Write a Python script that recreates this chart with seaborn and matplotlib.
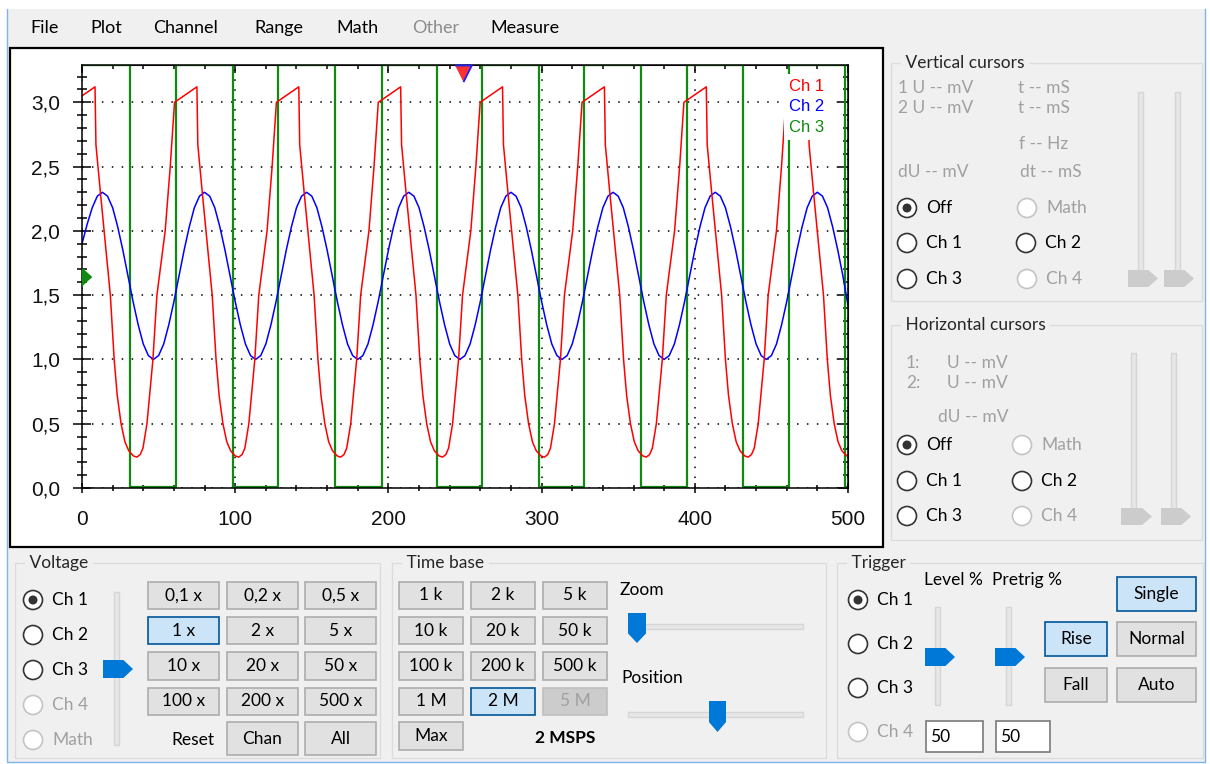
import numpy as np
import matplotlib
matplotlib.use("Agg")
import matplotlib.pyplot as plt
import seaborn as sns
from matplotlib.patches import Rectangle, Circle, Polygon
from matplotlib.ticker import MultipleLocator, FuncFormatter, NullFormatter

# ---------------- signal data ----------------
# x = sample index (0..500), y = volts
ch1_t = [0.0, 8.5, 9.1, 12.0, 18.5, 21.0, 23.0, 25.5, 28.0, 30.5, 33.5, 35.8, 38.0, 39.8, 42.4, 46.3, 48.9, 54.3, 57.6, 60.4,
         75.0, 75.6, 78.5, 85.0, 87.5, 89.5, 92.0, 94.5, 97.0, 100.0, 102.3, 104.5, 106.3, 108.9, 112.8, 115.4, 120.8, 124.1, 126.9,
         141.5, 142.1, 145.0, 151.5, 154.0, 156.0, 158.5, 161.0, 163.5, 166.5, 168.8, 171.0, 172.8, 175.4, 179.3, 181.9, 187.3, 190.6, 193.4,
         208.0, 208.6, 211.5, 218.0, 220.5, 222.5, 225.0, 227.5, 230.0, 233.0, 235.3, 237.5, 239.3, 241.9, 245.8, 248.4, 253.8, 257.1, 259.9,
         274.5, 275.1, 278.0, 284.5, 287.0, 289.0, 291.5, 294.0, 296.5, 299.5, 301.8, 304.0, 305.8, 308.4, 312.3, 314.9, 320.3, 323.6, 326.4,
         341.0, 341.6, 344.5, 351.0, 353.5, 355.5, 358.0, 360.5, 363.0, 366.0, 368.3, 370.5, 372.3, 374.9, 378.8, 381.4, 386.8, 390.1, 392.9,
         407.5, 408.1, 411.0, 417.5, 420.0, 422.0, 424.5, 427.0, 429.5, 432.5, 434.8, 437.0, 438.8, 441.4, 445.3, 447.9, 453.3, 456.6, 459.4,
         474.0, 474.6, 477.5, 484.0, 486.5, 488.5, 491.0, 493.5, 496.0, 499.0, 500.0]
ch1_v = [3.05, 3.12, 2.67, 2.30, 1.50, 1.00, 0.72, 0.50, 0.36, 0.29, 0.25, 0.24, 0.26, 0.31, 0.50, 1.00, 1.50, 2.00, 2.50, 3.00,
         3.12, 2.67, 2.30, 1.50, 1.00, 0.72, 0.50, 0.36, 0.29, 0.25, 0.24, 0.26, 0.31, 0.50, 1.00, 1.50, 2.00, 2.50, 3.00,
         3.12, 2.67, 2.30, 1.50, 1.00, 0.72, 0.50, 0.36, 0.29, 0.25, 0.24, 0.26, 0.31, 0.50, 1.00, 1.50, 2.00, 2.50, 3.00,
         3.12, 2.67, 2.30, 1.50, 1.00, 0.72, 0.50, 0.36, 0.29, 0.25, 0.24, 0.26, 0.31, 0.50, 1.00, 1.50, 2.00, 2.50, 3.00,
         3.12, 2.67, 2.30, 1.50, 1.00, 0.72, 0.50, 0.36, 0.29, 0.25, 0.24, 0.26, 0.31, 0.50, 1.00, 1.50, 2.00, 2.50, 3.00,
         3.12, 2.67, 2.30, 1.50, 1.00, 0.72, 0.50, 0.36, 0.29, 0.25, 0.24, 0.26, 0.31, 0.50, 1.00, 1.50, 2.00, 2.50, 3.00,
         3.12, 2.67, 2.30, 1.50, 1.00, 0.72, 0.50, 0.36, 0.29, 0.25, 0.24, 0.26, 0.31, 0.50, 1.00, 1.50, 2.00, 2.50, 3.00,
         3.12, 2.67, 2.30, 1.50, 1.00, 0.72, 0.50, 0.36, 0.29, 0.25, 0.26]

# ch2 samples every 3.33 units
ch2_t = np.linspace(0, 500, 151)
ch2_v = [1.90, 2.05, 2.18, 2.27, 2.30, 2.27, 2.18, 2.03, 1.85, 1.65, 1.45, 1.27, 1.12, 1.03, 1.00, 1.03, 1.12, 1.27, 1.45, 1.65,
         1.85, 2.03, 2.18, 2.27, 2.30, 2.27, 2.18, 2.03, 1.85, 1.65, 1.45, 1.27, 1.12, 1.03, 1.00, 1.03, 1.12, 1.27, 1.45, 1.65,
         1.85, 2.03, 2.18, 2.27, 2.30, 2.27, 2.18, 2.03, 1.85, 1.65, 1.45, 1.27, 1.12, 1.03, 1.00, 1.03, 1.12, 1.27, 1.45, 1.65,
         1.85, 2.03, 2.18, 2.27, 2.30, 2.27, 2.18, 2.03, 1.85, 1.65, 1.45, 1.27, 1.12, 1.03, 1.00, 1.03, 1.12, 1.27, 1.45, 1.65,
         1.85, 2.03, 2.18, 2.27, 2.30, 2.27, 2.18, 2.03, 1.85, 1.65, 1.45, 1.27, 1.12, 1.03, 1.00, 1.03, 1.12, 1.27, 1.45, 1.65,
         1.85, 2.03, 2.18, 2.27, 2.30, 2.27, 2.18, 2.03, 1.85, 1.65, 1.45, 1.27, 1.12, 1.03, 1.00, 1.03, 1.12, 1.27, 1.45, 1.65,
         1.85, 2.03, 2.18, 2.27, 2.30, 2.27, 2.18, 2.03, 1.85, 1.65, 1.45, 1.27, 1.12, 1.03, 1.00, 1.03, 1.12, 1.27, 1.45, 1.65,
         1.85, 2.03, 2.18, 2.27, 2.30, 2.27, 2.18, 2.03, 1.85, 1.65, 1.42]

# ch3 is a square wave, edges only (steps-post)
ch3_t = [0, 31.3, 61.2, 98.3, 128.2, 165.1, 195.6, 231.5, 261.3, 298.5, 327.9, 364.7, 395.1, 431.3, 461.5, 498.0, 500]
ch3_v = [3.29, 0.01, 3.29, 0.01, 3.29, 0.01, 3.29, 0.01, 3.29, 0.01, 3.29, 0.01, 3.29, 0.01, 3.29, 0.01, 0.01]

x_ticks = [0, 100, 200, 300, 400, 500]
y_ticks = [0.0, 0.5, 1.0, 1.5, 2.0, 2.5, 3.0]
y_top = 3.29
channel_names = ['Ch 1', 'Ch 2', 'Ch 3']
channel_colors = ['#ff0000', '#0000ff', '#108a10']
ch3_marker_level = 1.64
pretrig_pos = 249

menu_items = ['File', 'Plot', 'Channel', 'Range', 'Math', 'Other', 'Measure']
volt_buttons = [['0,1 x', '0,2 x', '0,5 x'], ['1 x', '2 x', '5 x'],
                ['10 x', '20 x', '50 x'], ['100 x', '200 x', '500 x']]
time_buttons = [['1 k', '2 k', '5 k'], ['10 k', '20 k', '50 k'],
                ['100 k', '200 k', '500 k'], ['1 M', '2 M', '5 M']]

# ---------------- figure ----------------
W, H = 1210, 764
BG = '#f0f0f0'
GRAY_TXT = '#a0a0a0'
FS = 12.5

sns.set_style('white')
plt.rcParams['font.family'] = ['Lato', 'DejaVu Sans']
PLOT_FONT = 'Liberation Sans'

fig = plt.figure(figsize=(W / 100, H / 100), dpi=100)
fig.patch.set_facecolor('white')

ui = fig.add_axes([0, 0, 1, 1])
ui.set_xlim(0, W)
ui.set_ylim(H, 0)
ui.axis('off')


def txt(x, y, s, color='black', ha='left', size=FS, **kw):
    ui.text(x, y, s, color=color, ha=ha, va='center', fontsize=size, **kw)


def group(x0, y0, x1, y1, title):
    ui.add_patch(Rectangle((x0, y0), x1 - x0, y1 - y0, fill=False, ec='#dcdcdc', lw=1))
    ui.text(x0 + 10, y0, ' ' + title + ' ', va='center', ha='left', fontsize=FS,
            bbox=dict(fc=BG, ec='none', pad=0))


def radio(cx, cy, label, on=False, disabled=False):
    ec = '#c4c4c4' if disabled else '#333333'
    ui.add_patch(Circle((cx, cy), 9.5, fc='white', ec=ec, lw=1.2))
    if on:
        ui.add_patch(Circle((cx, cy), 4.5, fc='#333333', ec='none'))
    txt(cx + 19, cy, label, color=GRAY_TXT if disabled else 'black')


def button(x0, y0, x1, y1, label, state='normal'):
    fc, ec, tc = {'normal': ('#e1e1e1', '#adadad', 'black'),
                  'selected': ('#cce4f7', '#005499', 'black'),
                  'disabled': ('#cccccc', '#bfbfbf', GRAY_TXT)}[state]
    ui.add_patch(Rectangle((x0, y0), x1 - x0, y1 - y0, fc=fc, ec=ec, lw=1.2))
    txt((x0 + x1) / 2, (y0 + y1) / 2, label, color=tc, ha='center')


def vtrack(x, y0, y1):
    ui.add_patch(Rectangle((x - 2.5, y0), 5, y1 - y0, fc='#e7e7e7', ec='#d6d6d6', lw=1))


def htrack(y, x0, x1):
    ui.add_patch(Rectangle((x0, y - 2.5), x1 - x0, 5, fc='#e7e7e7', ec='#d6d6d6', lw=1))


def vthumb(x0, y0, x1, y1, color):
    xm = x0 + 0.68 * (x1 - x0)
    ui.add_patch(Polygon([(x0, y0), (xm, y0), (x1, (y0 + y1) / 2), (xm, y1), (x0, y1)],
                         closed=True, fc=color, ec='none'))


def hthumb(x0, y0, x1, y1, color):
    ym = y0 + 0.68 * (y1 - y0)
    ui.add_patch(Polygon([(x0, y0), (x1, y0), (x1, ym), ((x0 + x1) / 2, y1), (x0, ym)],
                         closed=True, fc=color, ec='none'))


# window body
ui.add_patch(Rectangle((7, 9), 1198, 753, fc=BG, ec='none'))
ui.plot([7, 7, 1205, 1205], [9, 762, 762, 9], color='#7eb4ea', lw=1)

# menu bar
for name, mx in zip(menu_items, [30, 90, 153, 254, 336, 412, 490]):
    txt(mx, 28, name, color='#8c8c8c' if name == 'Other' else 'black', size=13)

# plot panel
ui.add_patch(Rectangle((10, 48), 873, 499, fc='white', ec='black', lw=1.6))

# vertical cursors
group(891, 63, 1202, 301, 'Vertical cursors')
for s, x, y in [('1 U -- mV', 898, 88), ('2 U -- mV', 898, 108), ('t -- mS', 1018, 88),
                ('t -- mS', 1018, 108), ('f -- Hz', 1019, 144), ('dU -- mV', 898, 172),
                ('dt -- mS', 1020, 172)]:
    txt(x, y, s, color=GRAY_TXT)
radio(907, 208, 'Off', on=True)
radio(1027, 208, 'Math', disabled=True)
radio(907, 243, 'Ch 1')
radio(1026, 243, 'Ch 2')
radio(907, 279, 'Ch 3')
radio(1027, 279, 'Ch 4', disabled=True)
vtrack(1140, 92, 282)
vtrack(1177, 92, 282)
vthumb(1128, 270, 1158, 287, '#cccccc')
vthumb(1164, 270, 1194, 287, '#cccccc')

# horizontal cursors
group(891, 325, 1202, 540, 'Horizontal cursors')
for s, x, y in [('1:', 906, 363), ('U -- mV', 947, 363), ('2:', 906, 383),
                ('U -- mV', 947, 383), ('dU -- mV', 938, 417)]:
    txt(x, y, s, color=GRAY_TXT)
radio(907, 445, 'Off', on=True)
radio(1022, 445, 'Math', disabled=True)
radio(907, 481, 'Ch 1')
radio(1022, 481, 'Ch 2')
radio(907, 516, 'Ch 3')
radio(1022, 516, 'Ch 4', disabled=True)
vtrack(1133, 353, 512)
vtrack(1173, 353, 512)
vthumb(1121, 508, 1152, 525, '#cccccc')
vthumb(1161, 508, 1191, 525, '#cccccc')

# voltage
group(15, 563, 380, 758, 'Voltage')
radio(33, 600, 'Ch 1', on=True)
radio(33, 635, 'Ch 2')
radio(33, 670, 'Ch 3')
radio(33, 705, 'Ch 4', disabled=True)
radio(33, 740, 'Math', disabled=True)
vtrack(116, 592, 745)
vthumb(103, 660, 133, 678, '#0078d7')
cols = [(148, 219), (227, 298), (305, 376)]
rows = [(582, 609), (617, 644), (652, 680), (688, 715)]
for r, row in enumerate(volt_buttons):
    for c, lab in enumerate(row):
        button(cols[c][0], rows[r][0], cols[c][1], rows[r][1], lab,
               'selected' if lab == '1 x' else 'normal')
txt(193, 740, 'Reset', ha='center')
button(227, 722, 298, 755, 'Chan')
button(305, 722, 376, 755, 'All')

# time base
group(392, 563, 826, 758, 'Time base')
cols = [(399, 463), (471, 535), (543, 607)]
for r, row in enumerate(time_buttons):
    for c, lab in enumerate(row):
        st = 'selected' if lab == '2 M' else ('disabled' if lab == '5 M' else 'normal')
        button(cols[c][0], rows[r][0], cols[c][1], rows[r][1], lab, st)
button(399, 722, 463, 750, 'Max')
txt(565, 738, '2 MSPS', ha='center', fontweight='bold')
txt(620, 590, 'Zoom')
htrack(626, 628, 803)
hthumb(628, 613, 646, 643, '#0078d7')
txt(621, 678, 'Position')
htrack(714, 628, 803)
hthumb(709, 701, 726, 732, '#0078d7')

# trigger
group(837, 563, 1203, 758, 'Trigger')
radio(858, 600, 'Ch 1', on=True)
radio(858, 644, 'Ch 2')
radio(858, 688, 'Ch 3')
radio(858, 732, 'Ch 4', disabled=True)
txt(924, 580, 'Level %')
txt(992, 580, 'Pretrig %')
vtrack(937, 607, 705)
vtrack(1008, 607, 705)
vthumb(925, 648, 955, 666, '#0078d7')
vthumb(995, 648, 1025, 666, '#0078d7')
for x0, x1 in [(926, 983), (996, 1050)]:
    ui.add_patch(Rectangle((x0, 721), x1 - x0, 31, fc='white', ec='#7a7a7a', lw=1.2))
    txt(x0 + 4, 737, '50')
button(1117, 577, 1196, 611, 'Single', 'selected')
button(1045, 622, 1107, 656, 'Rise', 'selected')
button(1117, 622, 1196, 656, 'Normal')
button(1045, 668, 1107, 702, 'Fall')
button(1117, 668, 1196, 702, 'Auto')

# ---------------- scope plot ----------------
ax = fig.add_axes([82 / W, 1 - 488 / H, 766 / W, 423 / H])
ax.set_facecolor('white')

sns.lineplot(x=ch3_t, y=ch3_v, ax=ax, color=channel_colors[2], lw=1.6, label=channel_names[2],
             estimator=None, sort=False, drawstyle='steps-post')
sns.lineplot(x=ch2_t, y=ch2_v, ax=ax, color=channel_colors[1], lw=1.1, label=channel_names[1],
             estimator=None, sort=False)
sns.lineplot(x=ch1_t, y=ch1_v, ax=ax, color=channel_colors[0], lw=1.1, label=channel_names[0],
             estimator=None, sort=False)

ax.set_xlim(0, 500)
ax.set_ylim(0, y_top)
ax.set_xlabel('')
ax.set_ylabel('')
ax.set_xticks(x_ticks)
ax.set_yticks(y_ticks)
ax.xaxis.set_minor_locator(MultipleLocator(20))
ax.yaxis.set_minor_locator(MultipleLocator(0.1))
ax.yaxis.set_major_formatter(FuncFormatter(lambda v, p: f'{v:.1f}'.replace('.', ',')))
ax.tick_params(which='both', direction='inout', bottom=True, left=True, top=False, right=False,
               color='black', width=1.1, labelsize=15, labelfontfamily=PLOT_FONT, labelcolor='#111111')
ax.tick_params(axis='y', which='major', length=13.5, pad=9)
ax.tick_params(axis='y', which='minor', length=7.5)
ax.tick_params(axis='x', which='major', length=7.5, pad=12)
ax.tick_params(axis='x', which='minor', length=5)
ax.grid(True, which='major', color='black', linestyle=(0, (1, 5.5)), linewidth=1.1)
ax.set_axisbelow(True)
for sp in ax.spines.values():
    sp.set_color('black')
    sp.set_linewidth(1.1)

top = ax.secondary_xaxis('top')
top.set_xticks(x_ticks)
top.xaxis.set_minor_locator(MultipleLocator(20))
top.xaxis.set_major_formatter(NullFormatter())
top.tick_params(which='both', direction='in', top=True, color='black', width=1.1)
top.tick_params(which='major', length=6)
top.tick_params(which='minor', length=3)
right = ax.secondary_yaxis('right')
right.set_yticks(y_ticks)
right.yaxis.set_minor_locator(MultipleLocator(0.1))
right.yaxis.set_major_formatter(NullFormatter())
right.tick_params(which='both', direction='in', right=True, color='black', width=1.1)
right.tick_params(which='major', length=7.5)
right.tick_params(which='minor', length=3.5)

# trace markers: ch3 offset arrow on the left, pretrigger arrow on top
ax.plot([0], [ch3_marker_level], marker=[(0, -1), (0, 1), (1.1, 0)], ms=13.4,
        color=channel_colors[2], clip_on=False, zorder=6)
ax.plot([pretrig_pos], [y_top], marker=[(-1, 0), (1, 0), (0, -2)], ms=24,
        mfc='#ff3030', mec='#2020ff', mew=1.3, clip_on=False, zorder=6)

handles, labels = ax.get_legend_handles_labels()
order = [labels.index(n) for n in channel_names]
leg = ax.legend([handles[i] for i in order], [labels[i] for i in order],
                loc='upper left', bbox_to_anchor=((784 - 82) / 766, (488 - 74) / 423),
                handlelength=0, handletextpad=0, labelcolor='linecolor',
                frameon=True, framealpha=1, facecolor='white', edgecolor='none',
                fancybox=False, borderpad=0.3, borderaxespad=0, labelspacing=0.32,
                prop={'family': PLOT_FONT, 'size': 12})
for h in leg.legend_handles:
    h.set_visible(False)

fig.savefig('out.png', dpi=100, facecolor=fig.get_facecolor())
